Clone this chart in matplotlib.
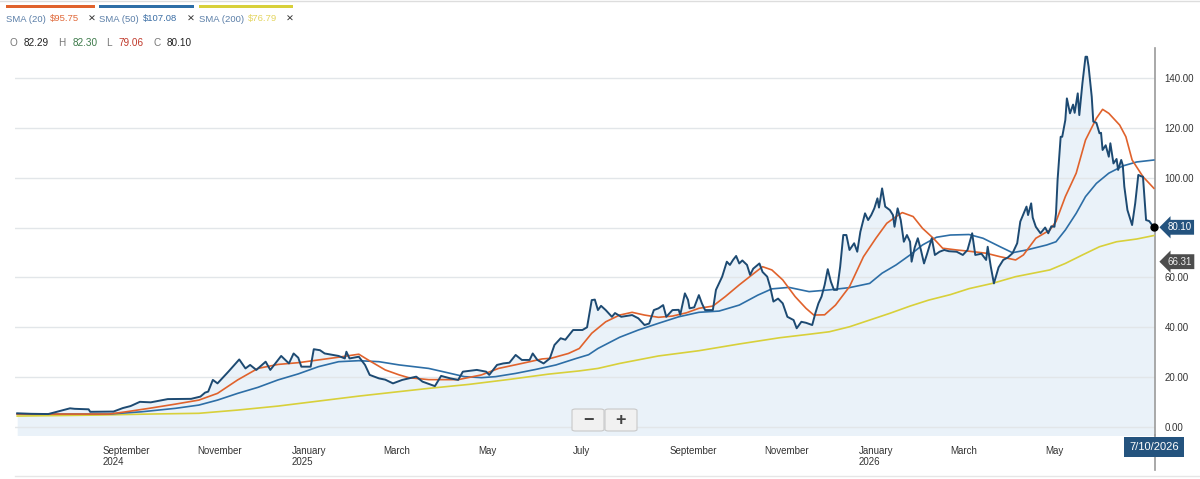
import matplotlib

matplotlib.use("Agg")
import matplotlib.pyplot as plt
import pandas as pd
from matplotlib.lines import Line2D
from matplotlib.patches import FancyBboxPatch, Rectangle

plt.rcParams["font.family"] = ["Liberation Sans", "DejaVu Sans"]

# --- data --------------------------------------------------------------------
price_dates = [
    "2024-07-08", "2024-07-17", "2024-07-28", "2024-08-11", "2024-08-14", "2024-08-23",
    "2024-08-24", "2024-09-08", "2024-09-14", "2024-09-19", "2024-09-25", "2024-10-02",
    "2024-10-13", "2024-10-28", "2024-11-03", "2024-11-06", "2024-11-08", "2024-11-11",
    "2024-11-14", "2024-11-21", "2024-11-28", "2024-12-02", "2024-12-05", "2024-12-09",
    "2024-12-15", "2024-12-18", "2024-12-23", "2024-12-25", "2024-12-30", "2025-01-02",
    "2025-01-05", "2025-01-07", "2025-01-13", "2025-01-15", "2025-01-19", "2025-01-22",
    "2025-01-31", "2025-02-04", "2025-02-05", "2025-02-07", "2025-02-13", "2025-02-17",
    "2025-02-20", "2025-02-26", "2025-03-02", "2025-03-07", "2025-03-13", "2025-03-22",
    "2025-03-26", "2025-04-03", "2025-04-07", "2025-04-13", "2025-04-18", "2025-04-21",
    "2025-04-30", "2025-05-06", "2025-05-08", "2025-05-13", "2025-05-17", "2025-05-21",
    "2025-05-25", "2025-05-29", "2025-06-03", "2025-06-05", "2025-06-08", "2025-06-12",
    "2025-06-16", "2025-06-19", "2025-06-23", "2025-06-26", "2025-07-01", "2025-07-07",
    "2025-07-10", "2025-07-13", "2025-07-15", "2025-07-17", "2025-07-19", "2025-07-22",
    "2025-07-26", "2025-07-28", "2025-08-01", "2025-08-08", "2025-08-12", "2025-08-16",
    "2025-08-19", "2025-08-22", "2025-08-25", "2025-08-28", "2025-08-30", "2025-09-03",
    "2025-09-07", "2025-09-08", "2025-09-11", "2025-09-13", "2025-09-14", "2025-09-17",
    "2025-09-20", "2025-09-22", "2025-09-24", "2025-09-29", "2025-10-01", "2025-10-03",
    "2025-10-05", "2025-10-08", "2025-10-10", "2025-10-12", "2025-10-14", "2025-10-16",
    "2025-10-18", "2025-10-21", "2025-10-23", "2025-10-25", "2025-10-29", "2025-10-31",
    "2025-11-03", "2025-11-05", "2025-11-07", "2025-11-10", "2025-11-13", "2025-11-16",
    "2025-11-20", "2025-11-22", "2025-11-25", "2025-11-28", "2025-12-02", "2025-12-04",
    "2025-12-06", "2025-12-08", "2025-12-10", "2025-12-12", "2025-12-14", "2025-12-16",
    "2025-12-18", "2025-12-20", "2025-12-22", "2025-12-24", "2025-12-26", "2025-12-29",
    "2025-12-31", "2026-01-02", "2026-01-05", "2026-01-07", "2026-01-09", "2026-01-11",
    "2026-01-13", "2026-01-14", "2026-01-16", "2026-01-18", "2026-01-21", "2026-01-23",
    "2026-01-24", "2026-01-26", "2026-01-28", "2026-01-30", "2026-02-01", "2026-02-03",
    "2026-02-04", "2026-02-06", "2026-02-08", "2026-02-10", "2026-02-12", "2026-02-14",
    "2026-02-17", "2026-02-19", "2026-02-22", "2026-02-25", "2026-02-28", "2026-03-05",
    "2026-03-09", "2026-03-12", "2026-03-15", "2026-03-17", "2026-03-21", "2026-03-24",
    "2026-03-25", "2026-03-27", "2026-03-29", "2026-04-01", "2026-04-04", "2026-04-07",
    "2026-04-10", "2026-04-13", "2026-04-15", "2026-04-19", "2026-04-20", "2026-04-22",
    "2026-04-23", "2026-04-25", "2026-04-28", "2026-05-01", "2026-05-03", "2026-05-05",
    "2026-05-07", "2026-05-08", "2026-05-09", "2026-05-11", "2026-05-12", "2026-05-14",
    "2026-05-15", "2026-05-17", "2026-05-19", "2026-05-20", "2026-05-22", "2026-05-23",
    "2026-05-25", "2026-05-27", "2026-05-28", "2026-05-29", "2026-05-31", "2026-06-01",
    "2026-06-03", "2026-06-05", "2026-06-06", "2026-06-07", "2026-06-09", "2026-06-11",
    "2026-06-12", "2026-06-14", "2026-06-16", "2026-06-17", "2026-06-19", "2026-06-20",
    "2026-06-21", "2026-06-23", "2026-06-26", "2026-06-28", "2026-06-30", "2026-07-02",
    "2026-07-03", "2026-07-05", "2026-07-07", "2026-07-10",
]
price_vals = [
    5.5, 5.3, 5.2, 7.5, 7.3, 7.1,
    6.1, 6.2, 7.6, 8.4, 10.1, 9.9,
    11.2, 11.3, 12.2, 13.8, 14.2, 18.9,
    17.5, 22.2, 27.1, 23.5, 24.9, 22.9,
    26.2, 22.9, 26.9, 28.5, 25.5, 29.5,
    27.8, 24.2, 24.2, 31.2, 30.8, 29.5,
    28.5, 27.5, 30.2, 27.5, 28.2, 24.9,
    20.9, 19.5, 19.0, 17.5, 18.9, 20.2,
    18.2, 16.4, 20.5, 19.5, 18.9, 22.2,
    22.9, 22.2, 20.9, 24.9, 25.5, 25.8,
    28.9, 26.9, 26.9, 29.5, 26.9, 25.5,
    27.5, 32.9, 35.6, 35.0, 38.9, 38.9,
    40.0, 50.9, 51.1, 46.9, 48.6, 46.9,
    44.2, 45.7, 44.2, 44.9, 43.6, 40.9,
    41.5, 46.9, 47.6, 48.9, 44.2, 46.9,
    47.0, 45.0, 53.6, 51.0, 47.6, 48.0,
    52.9, 49.5, 46.9, 46.9, 55.0, 57.6,
    60.3, 66.3, 65.0, 67.0, 68.6, 65.6,
    66.8, 65.0, 61.0, 63.5, 65.6, 62.2,
    60.3, 56.0, 50.3, 51.5, 49.6, 44.2,
    42.9, 39.6, 42.2, 41.8, 40.9, 45.6,
    49.6, 52.3, 57.0, 63.3, 58.3, 55.0,
    55.0, 64.3, 77.0, 77.0, 71.0, 73.7,
    70.3, 78.3, 85.7, 83.0, 85.0, 87.7,
    91.7, 88.0, 95.7, 88.4, 87.0, 85.0,
    80.3, 87.7, 83.0, 74.3, 77.0, 74.3,
    66.3, 72.0, 75.7, 71.0, 65.6, 69.5,
    75.7, 69.0, 70.3, 71.0, 70.5, 70.3,
    69.0, 71.0, 77.7, 69.0, 69.5, 67.0,
    72.3, 64.3, 57.6, 64.0, 67.0, 68.0,
    69.7, 73.7, 82.4, 88.4, 85.0, 89.7,
    84.0, 80.3, 77.7, 80.0, 77.7, 80.5,
    80.3, 85.7, 99.0, 116.4, 116.4, 123.1,
    131.8, 125.8, 129.3, 126.0, 133.8, 125.1,
    137.8, 148.5, 148.5, 144.5, 132.5, 122.5,
    122.0, 117.8, 118.0, 111.1, 113.0, 108.4,
    113.8, 105.7, 107.5, 103.1, 107.1, 105.0,
    96.4, 87.0, 81.0, 89.7, 101.1, 100.5,
    100.4, 83.0, 82.6, 80.1,
]

sma20_dates = [
    "2024-07-08", "2024-09-05", "2024-09-16", "2024-10-01", "2024-10-18", "2024-11-02",
    "2024-11-14", "2024-11-27", "2024-12-10", "2024-12-23", "2025-01-05", "2025-01-18",
    "2025-01-31", "2025-02-13", "2025-02-19", "2025-03-02", "2025-03-11", "2025-03-17",
    "2025-03-30", "2025-04-18", "2025-05-03", "2025-05-14", "2025-05-29", "2025-06-11",
    "2025-06-17", "2025-06-28", "2025-07-05", "2025-07-13", "2025-07-22", "2025-07-31",
    "2025-08-08", "2025-08-16", "2025-08-25", "2025-09-03", "2025-09-12", "2025-09-20",
    "2025-09-29", "2025-10-07", "2025-10-16", "2025-10-25", "2025-10-31", "2025-11-06",
    "2025-11-13", "2025-11-21", "2025-11-28", "2025-12-03", "2025-12-10", "2025-12-17",
    "2025-12-26", "2026-01-04", "2026-01-12", "2026-01-19", "2026-01-25", "2026-01-29",
    "2026-02-05", "2026-02-11", "2026-02-18", "2026-02-24", "2026-03-05", "2026-03-13",
    "2026-03-24", "2026-04-02", "2026-04-12", "2026-04-17", "2026-04-25", "2026-05-04",
    "2026-05-08", "2026-05-14", "2026-05-21", "2026-05-27", "2026-06-03", "2026-06-07",
    "2026-06-11", "2026-06-18", "2026-06-22", "2026-06-26", "2026-07-03", "2026-07-10",
]
sma20_vals = [
    5.2, 5.2, 6.1, 7.5, 9.2, 10.8,
    13.5, 18.9, 23.5, 25.1, 25.8, 26.9,
    28.0, 29.2, 26.9, 22.9, 20.9, 19.8,
    19.0, 19.0, 20.9, 23.5, 25.5, 27.3,
    27.6, 29.5, 31.5, 37.6, 42.2, 44.9,
    46.0, 44.9, 44.0, 44.5, 45.8, 47.6,
    48.5, 52.3, 57.0, 61.4, 64.3, 63.0,
    59.0, 52.3, 47.6, 44.9, 45.0, 48.9,
    56.3, 68.3, 75.7, 81.7, 84.4, 86.0,
    84.4, 79.7, 75.7, 71.7, 71.0, 70.5,
    69.7, 68.3, 67.0, 69.0, 75.7, 79.0,
    82.4, 92.4, 101.8, 115.1, 123.8, 127.4,
    125.8, 121.1, 116.4, 107.1, 100.4, 95.75,
]

sma50_dates = [
    "2024-07-08", "2024-09-05", "2024-09-26", "2024-10-18", "2024-11-02", "2024-11-14",
    "2024-11-27", "2024-12-10", "2024-12-23", "2025-01-05", "2025-01-18", "2025-01-31",
    "2025-02-13", "2025-02-26", "2025-03-11", "2025-03-30", "2025-04-11", "2025-04-22",
    "2025-05-03", "2025-05-12", "2025-05-25", "2025-06-07", "2025-06-20", "2025-07-03",
    "2025-07-11", "2025-07-17", "2025-07-31", "2025-08-12", "2025-08-25", "2025-09-07",
    "2025-09-20", "2025-10-03", "2025-10-16", "2025-10-28", "2025-11-06", "2025-11-17",
    "2025-11-30", "2025-12-13", "2025-12-26", "2026-01-08", "2026-01-16", "2026-01-25",
    "2026-02-03", "2026-02-11", "2026-02-20", "2026-03-01", "2026-03-13", "2026-03-22",
    "2026-04-02", "2026-04-10", "2026-04-19", "2026-05-02", "2026-05-08", "2026-05-14",
    "2026-05-21", "2026-05-27", "2026-06-03", "2026-06-11", "2026-06-20", "2026-06-29",
    "2026-07-10",
]
sma50_vals = [
    5.2, 5.2, 6.1, 7.5, 8.8, 10.8,
    13.5, 15.9, 18.9, 21.3, 24.2, 26.2,
    26.6, 26.2, 24.9, 23.5, 21.8, 20.2,
    19.8, 20.2, 21.5, 23.1, 24.9, 27.5,
    29.0, 31.5, 36.0, 38.9, 41.6, 44.2,
    46.0, 46.5, 48.9, 52.9, 55.4, 56.0,
    54.3, 55.0, 55.9, 57.6, 61.7, 65.0,
    69.0, 73.0, 76.1, 77.0, 77.2, 75.7,
    72.3, 69.9, 71.0, 73.0, 74.3, 79.0,
    85.7, 92.4, 97.7, 101.8, 104.7, 106.3,
    107.08,
]

sma200_dates = [
    "2024-07-08", "2024-08-30", "2024-10-01", "2024-11-02", "2024-11-27", "2024-12-23",
    "2025-01-18", "2025-02-13", "2025-03-11", "2025-03-30", "2025-04-25", "2025-05-21",
    "2025-06-15", "2025-07-05", "2025-07-17", "2025-07-31", "2025-08-25", "2025-09-20",
    "2025-10-16", "2025-11-11", "2025-11-30", "2025-12-13", "2025-12-26", "2026-01-08",
    "2026-01-21", "2026-02-03", "2026-02-15", "2026-03-01", "2026-03-13", "2026-03-28",
    "2026-04-12", "2026-05-04", "2026-05-14", "2026-05-25", "2026-06-05", "2026-06-16",
    "2026-06-29", "2026-07-10",
]
sma200_vals = [
    4.4, 4.8, 5.2, 5.5, 6.8, 8.4,
    10.4, 12.4, 14.2, 15.5, 17.1, 19.1,
    21.2, 22.5, 23.5, 25.5, 28.5, 30.6,
    33.3, 35.8, 37.2, 38.2, 40.2, 42.9,
    45.6, 48.5, 50.9, 53.1, 55.5, 57.6,
    60.3, 63.0, 65.6, 69.0, 72.3, 74.3,
    75.4, 76.79,
]

tick_dates = ["2024-09-01", "2024-11-01", "2025-01-01", "2025-03-01", "2025-05-01",
              "2025-07-01", "2025-09-01", "2025-11-01", "2026-01-01", "2026-03-01",
              "2026-05-01"]
tick_labels = ["September\n2024", "November", "January\n2025", "March", "May", "July",
               "September", "November", "January\n2026", "March", "May"]
y_ticks = [0, 20, 40, 60, 80, 100, 120, 140]

last_close = 80.10
marker_value = 66.31
last_date_label = "7/10/2026"

C_PRICE = "#1d4a72"
C_SMA20 = "#e0622c"
C_SMA50 = "#2d6ea6"
C_SMA200 = "#d8d03a"
C_FILL = "#eaf2f9"

W, H = 1200, 479


def fx(px):
    return px / W


def fy(py):
    return 1 - py / H


fig = plt.figure(figsize=(W / 100, H / 100), dpi=100)
ax = fig.add_axes([fx(15), fy(435), fx(1155) - fx(15), fy(48) - fy(435)])

pdates = pd.to_datetime(price_dates)
ax.fill_between(pdates, price_vals, -10, color=C_FILL, lw=0, zorder=1)
for v in y_ticks:
    ax.axhline(v, color="#e2e6e9", lw=1, zorder=1.5)

ax.plot(pd.to_datetime(sma200_dates), sma200_vals, color=C_SMA200, lw=1.2, zorder=3)
ax.plot(pd.to_datetime(sma50_dates), sma50_vals, color=C_SMA50, lw=1.2, zorder=3)
ax.plot(pd.to_datetime(sma20_dates), sma20_vals, color=C_SMA20, lw=1.2, zorder=3)
ax.plot(pdates, price_vals, color=C_PRICE, lw=1.4, zorder=4)
ax.plot(pdates[-1], last_close, "o", color="black", ms=5, zorder=6, clip_on=False)

ax.set_xlim(pd.Timestamp("2024-07-06 14:00"), pd.Timestamp("2026-07-10 18:00"))
ax.set_ylim(-3.2, 152.0)

# the 80 label sits under the last-close tag in the original, so it is left blank
ax.yaxis.tick_right()
ax.set_yticks(y_ticks)
ax.set_yticklabels(["" if v == 80 else f"{v:.2f}" for v in y_ticks])
ax.tick_params(axis="y", length=0, pad=7, labelsize=7, labelcolor="#333333")
ax.set_xticks(pd.to_datetime(tick_dates))
ax.set_xticklabels(tick_labels, ha="left", linespacing=1.15)
ax.tick_params(axis="x", length=0, pad=8, labelsize=7, labelcolor="#333333")
for s in ["top", "left", "bottom"]:
    ax.spines[s].set_visible(False)
ax.spines["right"].set_color("#9a9a9a")
ax.spines["right"].set_linewidth(1.2)
ax.grid(False)

# axis line continues down into the date tag
fig.add_artist(Line2D([fx(1155), fx(1155)], [fy(435), fy(470)], color="#9a9a9a", lw=1.2))

# right-side value tags
ax.annotate(f"{last_close:.2f}", xy=(1.0, last_close), xycoords=("axes fraction", "data"),
            xytext=(9, 0), textcoords="offset points", va="center", ha="left",
            fontsize=7, color="white",
            bbox=dict(boxstyle="larrow,pad=0.25", fc="#24537e", ec="none"))
ax.annotate(f"{marker_value:.2f}", xy=(1.0, marker_value), xycoords=("axes fraction", "data"),
            xytext=(9, 0), textcoords="offset points", va="center", ha="left",
            fontsize=7, color="#eeeeee",
            bbox=dict(boxstyle="larrow,pad=0.25", fc="#4d4d4d", ec="none"))

# date tag under the axis
fig.text(fx(1154), fy(447), last_date_label, ha="center", va="center", fontsize=8,
         color="white", bbox=dict(boxstyle="square,pad=0.45", fc="#24537e", ec="none"))

# zoom buttons
for x0, sym in [(572, "\u2212"), (605, "+")]:
    fig.add_artist(FancyBboxPatch((fx(x0), fy(431)), fx(32), fy(409) - fy(431),
                                  boxstyle="round,pad=0,rounding_size=0.003",
                                  fc="#f1f1f1", ec="#c9c9c9", lw=0.8,
                                  transform=fig.transFigure))
    fig.text(fx(x0 + 16), fy(420), sym, ha="center", va="center", fontsize=13,
             fontweight="bold", color="#444444")

# legend row with coloured bars
legend_bars = [(6, 95, C_SMA20), (99, 194, C_SMA50), (199, 293, C_SMA200)]
for x0, x1, c in legend_bars:
    fig.add_artist(Rectangle((fx(x0), fy(7.5)), fx(x1) - fx(x0), fy(5) - fy(7.5),
                             fc=c, ec="none", transform=fig.transFigure))

legend_items = [
    (6, "SMA (20)", "#5b7fa8"), (50, "$95.75", "#e0693a"), (88, "\u2715", "#333333"),
    (99, "SMA (50)", "#5b7fa8"), (143, "$107.08", "#3b6ea5"), (187, "\u2715", "#333333"),
    (199, "SMA (200)", "#5b7fa8"), (248, "$76.79", "#e3d45e"), (286, "\u2715", "#333333"),
]
for x, s, c in legend_items:
    fig.text(fx(x), fy(19), s, ha="left", va="center", fontsize=6.8, color=c,
             fontweight="bold" if s == "\u2715" else "normal")

ohlc_items = [
    (10, "O", "#777777"), (24, "82.29", "#222222"),
    (58, "H", "#777777"), (73, "82.30", "#3d7a4a"),
    (106, "L", "#777777"), (119, "79.06", "#c0392b"),
    (153, "C", "#777777"), (167, "80.10", "#222222"),
]
for x, s, c in ohlc_items:
    fig.text(fx(x), fy(43), s, ha="left", va="center", fontsize=7.2, color=c)

# faint frame lines
fig.add_artist(Line2D([0, 1], [fy(1), fy(1)], color="#dddddd", lw=1))
fig.add_artist(Line2D([fx(15), 1], [fy(476), fy(476)], color="#e6e6e6", lw=1))

fig.savefig("out.png", dpi=100)
